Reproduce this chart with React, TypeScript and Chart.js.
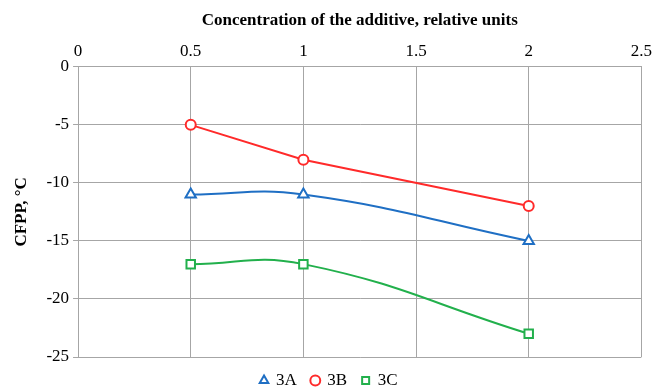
import React, { useEffect, useRef } from "react";
import { Chart, registerables } from "chart.js";

Chart.register(...registerables);

const xValues = [0.5, 1, 2];
const series3A = [-11, -11, -15];
const series3B = [-5, -8, -12];
const series3C = [-17, -17, -23];
const xTitle = "Concentration of the additive, relative units";
const yTitle = "CFPP, °C";

const FONT = "'Liberation Serif', 'Times New Roman', serif";

export default function App() {
  const ref = useRef<HTMLCanvasElement | null>(null);
  useEffect(() => {
    document.body.style.margin = "0";
    const toPts = (ys: number[]) => xValues.map((x, i) => ({ x, y: ys[i] }));
    const chart = new Chart(ref.current!, {
      type: "line",
      data: {
        datasets: [
          {
            label: "3A",
            data: toPts(series3A),
            borderColor: "#1f6fc4",
            backgroundColor: "#ffffff",
            pointStyle: "triangle",
            pointRadius: 6,
            pointBorderWidth: 2,
            borderWidth: 2,
            tension: 0.45,
          },
          {
            label: "3B",
            data: toPts(series3B),
            borderColor: "#ff2a2a",
            backgroundColor: "#ffffff",
            pointStyle: "circle",
            pointRadius: 5,
            pointBorderWidth: 2,
            borderWidth: 2,
            tension: 0,
          },
          {
            label: "3C",
            data: toPts(series3C),
            borderColor: "#22b04c",
            backgroundColor: "#ffffff",
            pointStyle: "rect",
            pointRadius: 6,
            pointBorderWidth: 2,
            borderWidth: 2,
            tension: 0.45,
          },
        ],
      },
      options: {
        animation: false,
        responsive: true,
        maintainAspectRatio: false,
        layout: { padding: { left: 11, right: 10, top: 10, bottom: -12 } },
        scales: {
          x: {
            type: "linear",
            position: "top",
            min: 0,
            max: 2.5,
            ticks: {
              stepSize: 0.5,
              color: "#000",
              font: { family: FONT, size: 17 },
              padding: 5,
              callback: (v: any) => String(Number(v)),
            },
            grid: { color: "#a6a6a6", drawTicks: false, lineWidth: 1 },
            border: { color: "#a6a6a6" },
            title: {
              display: true,
              text: xTitle,
              color: "#000",
              font: { family: FONT, size: 17, weight: "bold" },
              padding: { top: 0, bottom: 6 },
            },
          },
          y: {
            type: "linear",
            min: -25,
            max: 0,
            ticks: {
              stepSize: 5,
              color: "#000",
              font: { family: FONT, size: 17 },
              padding: 4,
              callback: (v: any) => String(Number(v)),
            },
            grid: { color: "#a6a6a6", tickLength: 5, lineWidth: 1 },
            border: { color: "#a6a6a6" },
            title: {
              display: true,
              text: yTitle,
              color: "#000",
              font: { family: FONT, size: 17, weight: "bold" },
              padding: { top: 0, bottom: 11 },
            },
          },
        },
        plugins: {
          legend: {
            position: "bottom",
            labels: {
              usePointStyle: true,
              boxWidth: 7,
              boxHeight: 7,
              padding: 15,
              color: "#000",
              font: { family: FONT, size: 17 },
            },
          },
          tooltip: { enabled: false },
        },
      },
    });
    return () => chart.destroy();
  }, []);
  return (
    <div style={{ width: 657, height: 387, position: "relative" }}>
      <canvas ref={ref} />
    </div>
  );
}
